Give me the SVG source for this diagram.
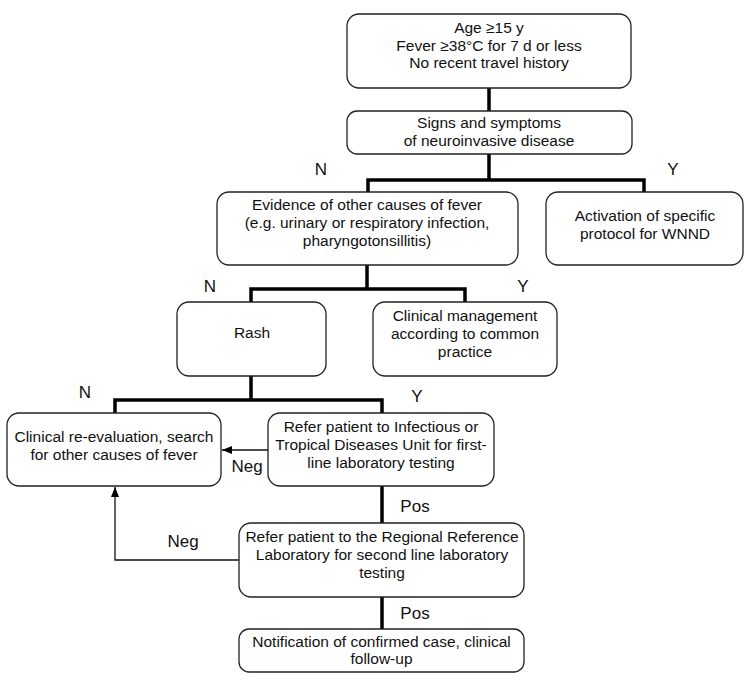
<svg xmlns="http://www.w3.org/2000/svg" width="750" height="687" viewBox="0 0 750 687">
<style>
.box{fill:#fff;stroke:#222;stroke-width:1.3}
.t{font-family:"Liberation Sans",Arial,sans-serif;font-size:15.5px;fill:#111;text-anchor:middle}
.lb{font-family:"Liberation Sans",Arial,sans-serif;font-size:17px;fill:#111;text-anchor:middle}
.thick{fill:none;stroke:#000;stroke-width:3.5}
.thin{fill:none;stroke:#111;stroke-width:1.3}
</style>
<defs>
<marker id="ah" markerUnits="userSpaceOnUse" markerWidth="10" markerHeight="10" viewBox="0 0 10 10" refX="10" refY="5" orient="auto">
<path d="M0,1 L10,5 L0,9 Z" fill="#000"/>
</marker>
</defs>
<rect width="750" height="687" fill="#fff"/>
<g id="connectors">
<path class="thick" d="M489,88 V111"/>
<path class="thick" d="M489,154 V180 M368,192 V180 H644 V192"/>
<path class="thick" d="M367,265 V289 M251,302 V289 H465 V302"/>
<path class="thick" d="M251,376 V400 M115,413 V400 H382 V413"/>
<path class="thick" d="M382,486 V523"/>
<path class="thick" d="M382,597 V629"/>
<path class="thin" d="M268,450 H222" marker-end="url(#ah)"/>
<path class="thin" d="M239,560 H115 V487" marker-end="url(#ah)"/>
</g>
<g id="labels">
<text class="lb" x="321" y="175">N</text>
<text class="lb" x="673" y="175">Y</text>
<text class="lb" x="210" y="292">N</text>
<text class="lb" x="523" y="292">Y</text>
<text class="lb" x="85" y="398">N</text>
<text class="lb" x="417" y="402">Y</text>
<text class="lb" x="247" y="472">Neg</text>
<text class="lb" x="415" y="512">Pos</text>
<text class="lb" x="183" y="547">Neg</text>
<text class="lb" x="415" y="619">Pos</text>
</g>
<g id="n1">
<rect class="box" x="347" y="14" width="284" height="74" rx="12"/>
<text class="t" x="489" y="33">Age ≥15 y</text>
<text class="t" x="489" y="50.5">Fever ≥38°C for 7 d or less</text>
<text class="t" x="489" y="68">No recent travel history</text>
</g>
<g id="n2">
<rect class="box" x="347" y="111" width="285" height="43" rx="10"/>
<text class="t" x="489" y="128">Signs and symptoms</text>
<text class="t" x="489" y="146">of neuroinvasive disease</text>
</g>
<g id="n3">
<rect class="box" x="217" y="192" width="301" height="73" rx="12"/>
<text class="t" x="367" y="210">Evidence of other causes of fever</text>
<text class="t" x="367" y="228">(e.g. urinary or respiratory infection,</text>
<text class="t" x="367" y="246">pharyngotonsillitis)</text>
</g>
<g id="n4">
<rect class="box" x="546" y="192" width="197" height="73" rx="12"/>
<text class="t" x="645" y="221">Activation of specific</text>
<text class="t" x="645" y="239">protocol for WNND</text>
</g>
<g id="n5">
<rect class="box" x="177" y="302" width="149" height="74" rx="12"/>
<text class="t" x="252" y="338">Rash</text>
</g>
<g id="n6">
<rect class="box" x="373" y="302" width="184" height="74" rx="12"/>
<text class="t" x="465" y="321">Clinical management</text>
<text class="t" x="465" y="339">according to common</text>
<text class="t" x="465" y="357">practice</text>
</g>
<g id="n7">
<rect class="box" x="7" y="413" width="214" height="73" rx="12"/>
<text class="t" x="114" y="442">Clinical re-evaluation, search</text>
<text class="t" x="114" y="460">for other causes of fever</text>
</g>
<g id="n8">
<rect class="box" x="268" y="413" width="226" height="73" rx="12"/>
<text class="t" x="381" y="432">Refer patient to Infectious or</text>
<text class="t" x="381" y="450">Tropical Diseases Unit for first-</text>
<text class="t" x="381" y="468">line laboratory testing</text>
</g>
<g id="n9">
<rect class="box" x="239" y="523" width="285" height="74" rx="12"/>
<text class="t" x="382" y="542">Refer patient to the Regional Reference</text>
<text class="t" x="382" y="560">Laboratory for second line laboratory</text>
<text class="t" x="382" y="578">testing</text>
</g>
<g id="n10">
<rect class="box" x="239" y="629" width="285" height="43" rx="10"/>
<text class="t" x="381.5" y="647">Notification of confirmed case, clinical</text>
<text class="t" x="381.5" y="664">follow-up</text>
</g>
</svg>
